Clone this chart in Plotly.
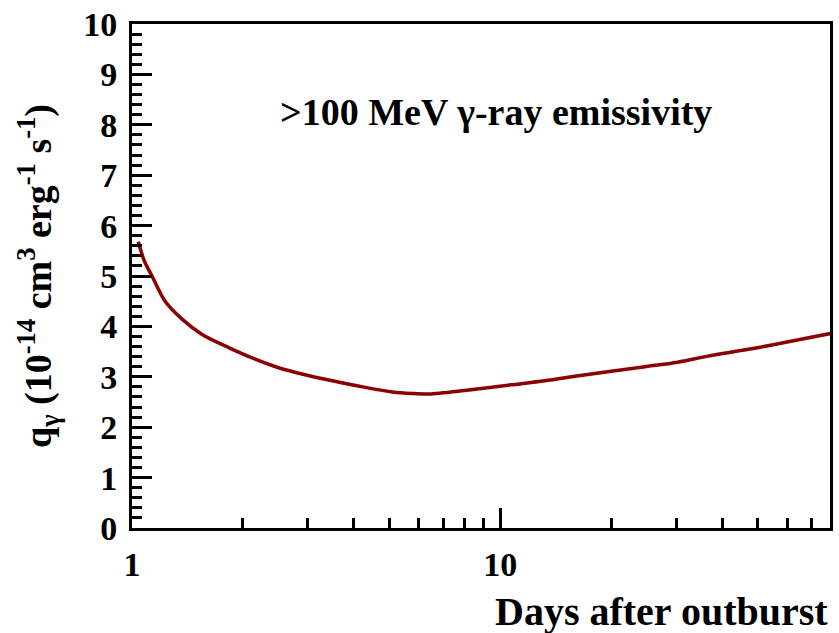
import numpy as np
import plotly.graph_objects as go

# >100 MeV gamma-ray emissivity versus time after outburst
days = [1.04, 1.08, 1.135, 1.23, 1.37, 1.55, 1.83, 2.16, 2.5, 2.95, 3.5, 4.3,
        5.1, 5.75, 6.4, 8.0, 10.7, 13.2, 16.3, 20.0, 24.7, 30.3, 36.6, 45.0,
        54.6, 65.0, 79.0]
q_gamma = [5.68, 5.30, 4.99, 4.50, 4.14, 3.84, 3.58, 3.35, 3.18, 3.04, 2.92,
           2.79, 2.70, 2.67, 2.66, 2.73, 2.84, 2.92, 3.02, 3.11, 3.20, 3.29,
           3.41, 3.52, 3.63, 3.74, 3.86]

x_major = [1, 10]
x_minor = [2, 3, 4, 5, 6, 7, 8, 9, 20, 30, 40, 50, 60, 70]
y_major = list(range(0, 11))

FONT = "Liberation Serif"

fig = go.Figure()
fig.add_trace(go.Scatter(x=days, y=q_gamma, mode="lines",
                         line=dict(color="#8b0000", width=3.5, shape="spline",
                                   smoothing=0.8),
                         showlegend=False, hoverinfo="skip"))

fig.update_layout(
    width=839, height=633,
    margin=dict(l=132, r=6, t=21, b=105),
    paper_bgcolor="white", plot_bgcolor="white",
    font=dict(family=FONT, color="black"),
    xaxis=dict(type="log", range=[0, np.log10(78.5)],
               tickmode="array", tickvals=x_major, ticktext=["1", "10"],
               ticks="inside", ticklen=20, tickwidth=3, tickcolor="black",
               minor=dict(tickmode="array", tickvals=x_minor, ticks="inside",
                          ticklen=10, tickwidth=3, tickcolor="black", showgrid=False),
               showline=True, linewidth=3, linecolor="black", mirror=True,
               showgrid=False, zeroline=False,
               tickfont=dict(family=FONT, size=34, weight="bold"),
               ticklabelstandoff=4),
    yaxis=dict(range=[0, 10], tickmode="array", tickvals=y_major,
               ticks="inside", ticklen=20, tickwidth=3, tickcolor="black",
               minor=dict(dtick=0.2, ticks="inside", ticklen=10, tickwidth=3,
                          tickcolor="black", showgrid=False),
               showline=True, linewidth=3, linecolor="black", mirror=True,
               showgrid=False, zeroline=False,
               tickfont=dict(family=FONT, size=34, weight="bold"),
               ticklabelstandoff=5,
               title=dict(text="q<sub>γ</sub> (10<sup>-14</sup> cm<sup>3</sup> erg<sup>-1</sup> s<sup>-1</sup>)",
                          font=dict(family=FONT, size=38, weight="bold"),
                          standoff=20)),
    annotations=[
        dict(text=">100 MeV γ-ray emissivity", xref="paper", yref="paper",
             x=0.521, y=0.825, xanchor="center", yanchor="middle", showarrow=False,
             font=dict(family=FONT, size=38, weight="bold")),
        dict(text="Days after outburst", xref="paper", yref="paper",
             x=1.0, y=-0.166, xanchor="right", yanchor="middle", showarrow=False,
             font=dict(family=FONT, size=40, weight="bold")),
    ],
)

fig.write_html("out.html")
